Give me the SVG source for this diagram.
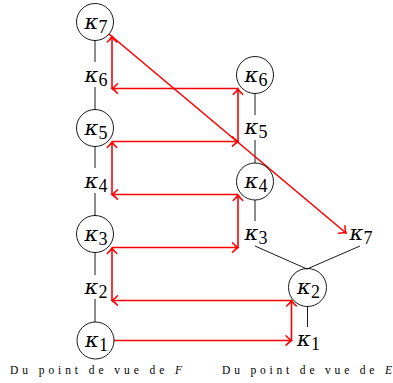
<svg xmlns="http://www.w3.org/2000/svg" width="393" height="383" viewBox="0 0 393 383">
<style>
.n{fill:none;stroke:#000;stroke-width:0.9}
.k{font-family:"DejaVu Serif","Liberation Serif",serif;font-size:21px;font-style:italic;text-anchor:middle;fill:#000}
.s{font-family:"Liberation Serif",serif;font-size:18px;font-style:normal}
.e{fill:none;stroke:#000;stroke-width:0.9}
.r{fill:none;stroke:#f00;stroke-width:1.6;marker-end:url(#ah)}
.cap{font-family:"Liberation Serif","DejaVu Serif",serif;font-size:11.5px;fill:#000}
</style>
<defs>
<marker id="ah" markerUnits="userSpaceOnUse" viewBox="-7 -6 8 12" refX="0" refY="0" markerWidth="8" markerHeight="12" orient="auto" overflow="visible">
<path d="M-5.5,-4.8 Q-2.5,-1.5 0,0 Q-2.5,1.5 -5.5,4.8" fill="none" stroke="#f00" stroke-width="1.5" stroke-linecap="round"/>
</marker>
</defs>
<g id="connectors">
<line class="e" x1="95" y1="40.5" x2="95" y2="62"/>
<line class="e" x1="95" y1="87" x2="95" y2="110"/>
<line class="e" x1="95" y1="146.5" x2="95" y2="168"/>
<line class="e" x1="95" y1="193" x2="95" y2="216"/>
<line class="e" x1="95" y1="252.5" x2="95" y2="275"/>
<line class="e" x1="95" y1="299" x2="95" y2="322"/>
<line class="e" x1="255" y1="93.5" x2="255" y2="115"/>
<line class="e" x1="255" y1="140" x2="255" y2="163"/>
<line class="e" x1="255" y1="200" x2="255" y2="221"/>
<line class="e" x1="255" y1="246" x2="307" y2="269"/>
<line class="e" x1="360" y1="246" x2="307" y2="269"/>
<line class="e" x1="307.5" y1="306" x2="307.5" y2="327"/>
<path class="r" d="M114,340.5 H291.5"/>
<path class="r" d="M291.5,340.5 V300.5"/>
<path class="r" d="M291.5,300.5 H112"/>
<path class="r" d="M112,300.5 V248"/>
<path class="r" d="M112,247.5 H238"/>
<path class="r" d="M238,247.5 V195"/>
<path class="r" d="M238,194.5 H112"/>
<path class="r" d="M112,194.5 V142"/>
<path class="r" d="M112,141.5 H238"/>
<path class="r" d="M238,141.5 V89"/>
<path class="r" d="M238,88.5 H112"/>
<path class="r" d="M112,88.5 V36.5"/>
<path class="r" d="M109,34 L346,233"/>
</g>
<g id="F7"><circle class="n" cx="95" cy="22" r="18.5"/><text class="k" x="96" y="29">κ<tspan class="s" dy="4">7</tspan></text></g>
<g id="F6"><text class="k" x="96" y="82">κ<tspan class="s" dy="4">6</tspan></text></g>
<g id="F5"><circle class="n" cx="95" cy="128" r="18.5"/><text class="k" x="96" y="135">κ<tspan class="s" dy="4">5</tspan></text></g>
<g id="F4"><text class="k" x="96" y="188">κ<tspan class="s" dy="4">4</tspan></text></g>
<g id="F3"><circle class="n" cx="95" cy="234" r="18.5"/><text class="k" x="96" y="241">κ<tspan class="s" dy="4">3</tspan></text></g>
<g id="F2"><text class="k" x="96" y="294">κ<tspan class="s" dy="4">2</tspan></text></g>
<g id="F1"><circle class="n" cx="95.5" cy="340.5" r="18.5"/><text class="k" x="96.5" y="347">κ<tspan class="s" dy="4">1</tspan></text></g>
<g id="E6"><circle class="n" cx="255" cy="75" r="18.5"/><text class="k" x="256" y="82">κ<tspan class="s" dy="4">6</tspan></text></g>
<g id="E5"><text class="k" x="256" y="134">κ<tspan class="s" dy="4">5</tspan></text></g>
<g id="E4"><circle class="n" cx="255" cy="181.5" r="18.5"/><text class="k" x="256" y="188">κ<tspan class="s" dy="4">4</tspan></text></g>
<g id="E3"><text class="k" x="256" y="240">κ<tspan class="s" dy="4">3</tspan></text></g>
<g id="E7"><text class="k" x="361" y="240">κ<tspan class="s" dy="4">7</tspan></text></g>
<g id="E2"><circle class="n" cx="307.5" cy="287.5" r="19"/><text class="k" x="308.5" y="294">κ<tspan class="s" dy="4">2</tspan></text></g>
<g id="E1"><text class="k" x="308.5" y="346">κ<tspan class="s" dy="4">1</tspan></text></g>
<text class="cap" x="10" y="374" textLength="172" lengthAdjust="spacing">Du point de vue de <tspan font-style="italic">F</tspan></text>
<text class="cap" x="222" y="374" textLength="170" lengthAdjust="spacing">Du point de vue de <tspan font-style="italic">E</tspan></text>
</svg>
